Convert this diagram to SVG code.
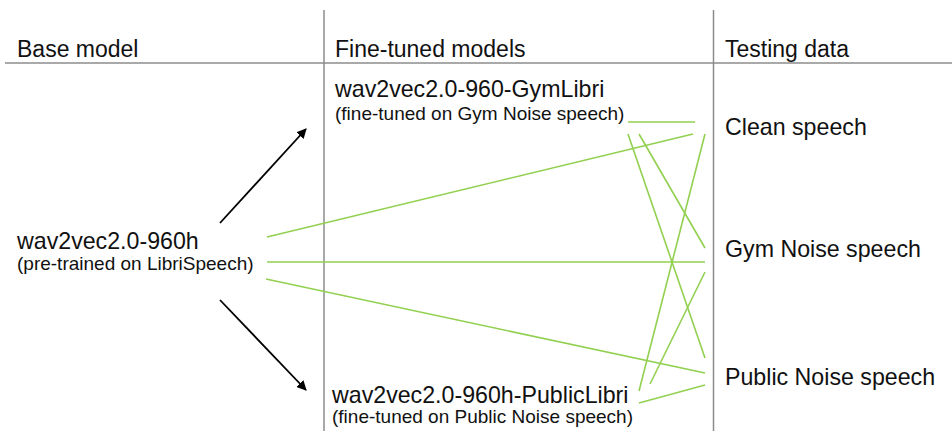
<svg xmlns="http://www.w3.org/2000/svg" width="952" height="431" viewBox="0 0 952 431">
<defs>
<marker id="ah" markerWidth="10" markerHeight="10" refX="9" refY="5" orient="auto" markerUnits="userSpaceOnUse" viewBox="0 0 10 10">
<path d="M0,0 L10,5 L0,10 Z" fill="#000"/>
</marker>
</defs>
<style>
text{font-family:"Liberation Sans",Arial,sans-serif;fill:#111}
.big{font-size:23.2px}
.hdr{font-size:23px}
.small{font-size:19px}
.grid{stroke:#8c8c8c;stroke-width:1.5;fill:none}
.g{stroke:#92D050;stroke-width:1.6;fill:none}
.arr{stroke:#000;stroke-width:1.8;fill:none;marker-end:url(#ah)}
</style>
<rect width="952" height="431" fill="#fff"/>
<g id="grid">
<line class="grid" x1="5" y1="63" x2="952" y2="63"/>
<line class="grid" x1="324" y1="10" x2="324" y2="431"/>
<line class="grid" x1="713.5" y1="10" x2="713.5" y2="431"/>
</g>
<g id="headers">
<text class="hdr" x="17" y="57">Base model</text>
<text class="hdr" x="335" y="57">Fine-tuned models</text>
<text class="hdr" x="725" y="57">Testing data</text>
</g>
<g id="connectors">
<line class="arr" x1="220" y1="223" x2="306" y2="129"/>
<line class="arr" x1="220" y1="300" x2="306" y2="390"/>
<line class="g" x1="628" y1="122" x2="695" y2="122"/>
<line class="g" x1="267" y1="237" x2="693" y2="134"/>
<line class="g" x1="628" y1="134" x2="705" y2="358"/>
<line class="g" x1="639" y1="134" x2="705" y2="248"/>
<line class="g" x1="705" y1="134" x2="639" y2="391"/>
<line class="g" x1="267" y1="262" x2="705" y2="262"/>
<line class="g" x1="705" y1="272" x2="650" y2="384"/>
<line class="g" x1="266" y1="279" x2="705" y2="373"/>
<line class="g" x1="639" y1="403" x2="705" y2="385"/>
</g>
<g id="base">
<text class="big" x="17" y="249">wav2vec2.0-960h</text>
<text class="small" x="17" y="270">(pre-trained on LibriSpeech)</text>
</g>
<g id="gymlibri">
<text class="big" x="335" y="97">wav2vec2.0-960-GymLibri</text>
<text class="small" x="335" y="120">(fine-tuned on Gym Noise speech)</text>
</g>
<g id="publiclibri">
<text class="big" x="332" y="403">wav2vec2.0-960h-PublicLibri</text>
<text class="small" x="332" y="423">(fine-tuned on Public Noise speech)</text>
</g>
<g id="clean"><text class="big" x="725" y="135">Clean speech</text></g>
<g id="gym"><text class="big" x="725" y="257">Gym Noise speech</text></g>
<g id="public"><text class="big" x="725" y="385">Public Noise speech</text></g>
</svg>
